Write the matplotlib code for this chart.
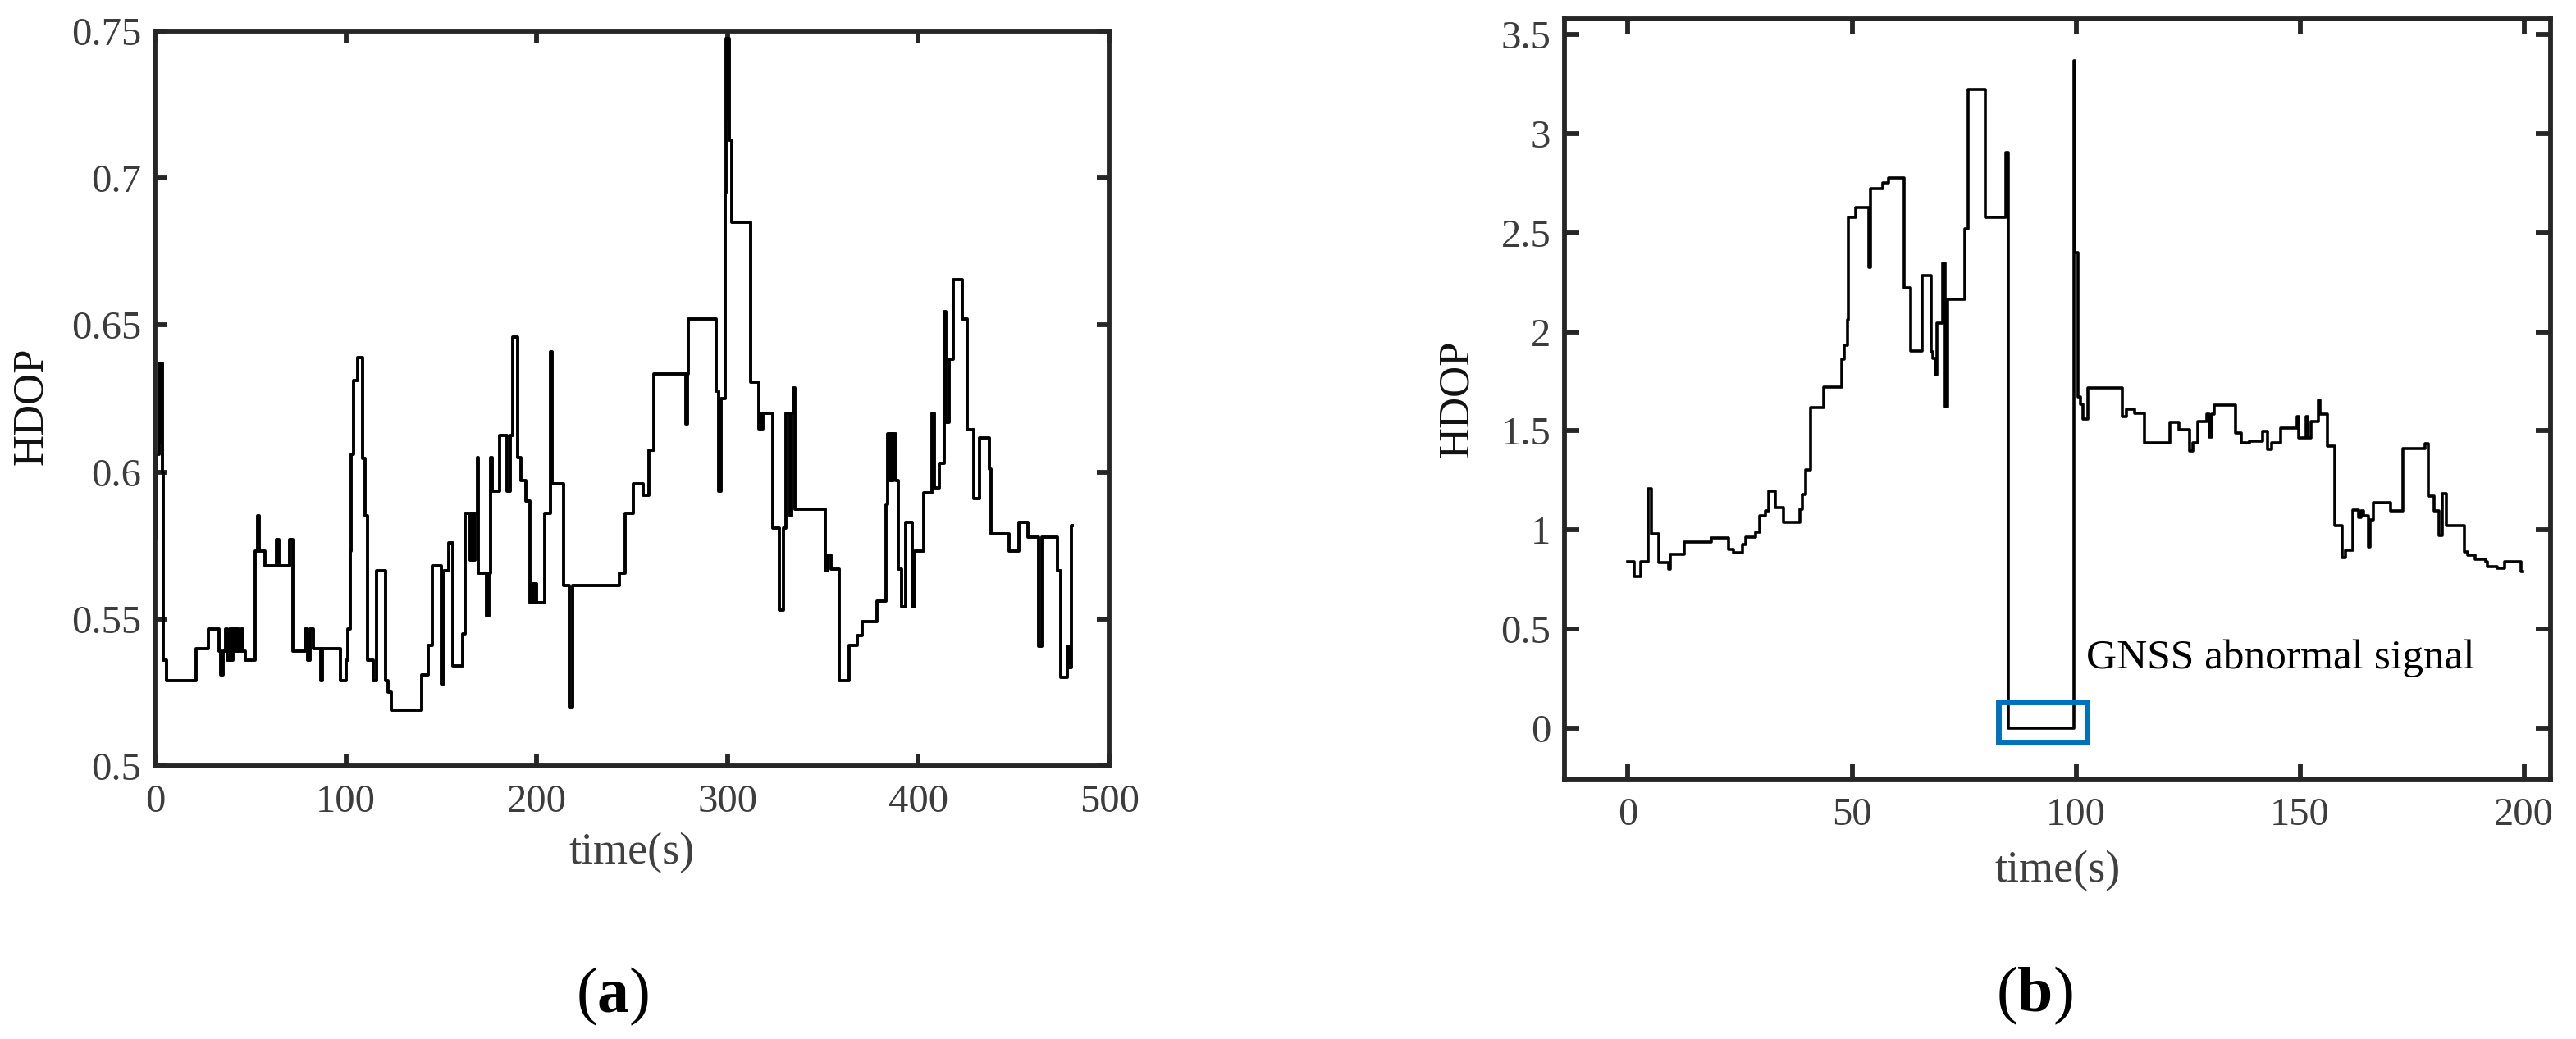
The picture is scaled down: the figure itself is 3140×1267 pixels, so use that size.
import matplotlib
matplotlib.use("Agg")
import matplotlib.pyplot as plt
from matplotlib.patches import Rectangle

plt.rcParams['font.family'] = ['Liberation Serif', 'DejaVu Serif']
plt.rcParams['mathtext.fontset'] = 'custom'
plt.rcParams['mathtext.rm'] = 'Liberation Serif'
plt.rcParams['mathtext.bf'] = 'Liberation Serif:bold'

# ---------------- data: panel (a) ----------------
time_a = [0, 0.9, 2.3, 2.8, 3.2, 3.7, 4.1, 6.2, 21.4, 28.0, 33.5, 34.2, 35.5, 37.0, 38.0, 39.0,
          40.0, 41.0, 42.0, 43.0, 44.0, 45.0, 46.0, 47.3, 52.6, 53.7, 54.5, 57.6, 63.7, 64.8,
          70.5, 72.3, 78.5, 80.0, 81.2, 83.0, 87.0, 87.9, 97.2, 100.1, 101.0, 102.3, 102.8,
          103.9, 106.2, 108.8, 110.0, 111.5, 114.2, 116.0, 120.8, 122.2, 124.0, 139.7, 143.3,
          145.4, 150.2, 151.1, 154.0, 156.1, 161.1, 162.7, 165.0, 166.0, 166.7, 167.5, 168.8,
          169.4, 173.6, 174.9, 175.8, 176.6, 180.7, 184.6, 186.0, 187.3, 190.0, 191.8, 194.5,
          196.3, 197.0, 198.0, 199.0, 200.0, 204.3, 207.0, 208.2, 214.1, 217.1, 218.9, 243.5,
          246.2, 250.7, 255.6, 258.7, 261.5, 278.2, 279.1, 279.6, 294.2, 295.5, 296.8, 298.6,
          299.0, 300.0, 300.5, 301.0, 302.1, 312.0, 316.4, 317.0, 317.5, 318.6, 323.6, 327.1,
          329.3, 330.7, 332.9, 333.8, 334.4, 335.2, 351.3, 352.7, 354.3, 358.4, 363.75, 368.0,
          370.4, 378.4, 383.0, 384.0, 385.0, 385.7, 386.5, 387.0, 388.2, 389.6, 391.4, 393.2,
          396.8, 397.9, 403.0, 407.1, 408.4, 411.1, 413.4, 414.3, 416.1, 418.2, 423.2, 425.4,
          428.9, 432.1, 437.0, 437.9, 447.7, 452.7, 457.5, 462.9, 464.6, 472.7, 474.5, 478.0,
          478.9, 480.2, 480.7]
hdop_a = [0.5775, 0.606, 0.637, 0.610, 0.637, 0.600, 0.536, 0.529, 0.540, 0.5467, 0.539, 0.531,
          0.539, 0.5467, 0.536, 0.5467, 0.536, 0.5467, 0.539, 0.5467, 0.539, 0.5467, 0.539,
          0.536, 0.573, 0.585, 0.573, 0.568, 0.577, 0.568, 0.577, 0.539, 0.5467, 0.536, 0.5467,
          0.540, 0.529, 0.540, 0.529, 0.536, 0.5467, 0.573, 0.606, 0.631, 0.639, 0.6045, 0.585,
          0.536, 0.529, 0.5665, 0.529, 0.525, 0.519, 0.531, 0.541, 0.568, 0.528, 0.5665, 0.576,
          0.534, 0.545, 0.586, 0.570, 0.586, 0.570, 0.586, 0.605, 0.5656, 0.551, 0.5656, 0.605,
          0.5935, 0.6125, 0.5935, 0.6125, 0.646, 0.605, 0.597, 0.590, 0.5555, 0.562, 0.5555,
          0.562, 0.5555, 0.586, 0.641, 0.596, 0.5615, 0.520, 0.5615, 0.5656, 0.586, 0.596,
          0.592, 0.6075, 0.6333, 0.6164, 0.6333, 0.652, 0.6275, 0.5935, 0.625, 0.695, 0.7475,
          0.720, 0.7475, 0.713, 0.685, 0.6307, 0.6147, 0.620, 0.6147, 0.620, 0.581, 0.553,
          0.581, 0.620, 0.585, 0.620, 0.6286, 0.5873, 0.5665, 0.5716, 0.567, 0.529, 0.541,
          0.5445, 0.549, 0.556, 0.589, 0.613, 0.597, 0.613, 0.597, 0.613, 0.597, 0.567, 0.554,
          0.583, 0.554, 0.573, 0.593, 0.620, 0.5946, 0.603, 0.6545, 0.617, 0.6384, 0.6655,
          0.652, 0.6143, 0.591, 0.6115, 0.601, 0.579, 0.573, 0.583, 0.5778, 0.5406, 0.5778,
          0.5665, 0.530, 0.5406, 0.5335, 0.5817, 0.5817]

# ---------------- data: panel (b) ----------------
time_b = [0, 1.3, 2.9, 4.5, 5.2, 6.8, 9.1, 9.4, 12.6, 18.5, 22.4, 23.5, 25.6, 26.3, 28.4, 29.4,
          30.7, 31.4, 32.8, 34.7, 38.4, 38.9, 39.6, 40.7, 43.7, 47.7, 48.2, 48.9, 49.2, 50.8,
          53.8, 54.1, 56.8, 58.2, 61.7, 63.0, 65.6, 67.7, 68.1, 68.6, 68.9, 70.2, 70.7, 71.3,
          75.2, 75.9, 79.8, 84.4, 84.9, 99.5, 99.8, 100.4, 101.0, 101.5, 102.7, 110.3, 111.3,
          113.0, 115.3, 121.0, 123.0, 125.4, 126.0, 127.2, 129.2, 129.8, 130.3, 130.8, 135.6,
          136.8, 138.8, 141.7, 142.7, 143.7, 145.7, 149.3, 149.7, 151.4, 151.7, 152.5, 154.1,
          154.5, 156.2, 157.8, 159.4, 160.2, 161.8, 163.0, 163.6, 164.2, 165.2, 165.6, 166.4,
          170.2, 172.9, 177.9, 178.7, 179.9, 181.1, 181.8, 182.6, 186.7, 187.5, 189.1, 191.5,
          191.9, 194.0, 195.6, 199.4, 199.6]
hdop_b = [0.84, 0.765, 0.84, 1.209, 0.978, 0.833, 0.80, 0.876, 0.94, 0.958, 0.903, 0.883, 0.926,
          0.963, 0.988, 1.071, 1.096, 1.197, 1.114, 1.039, 1.104, 1.179, 1.302, 1.616, 1.721,
          1.862, 1.932, 2.062, 2.577, 2.627, 2.326, 2.722, 2.752, 2.777, 2.22, 1.904, 2.283,
          1.90, 1.866, 1.781, 2.042, 2.346, 1.623, 2.163, 2.521, 3.224, 2.577, 2.903, 0.0,
          3.367, 2.4, 1.673, 1.636, 1.56, 1.716, 1.573, 1.611, 1.59, 1.44, 1.543, 1.505, 1.40,
          1.44, 1.548, 1.586, 1.47, 1.586, 1.628, 1.49, 1.44, 1.448, 1.498, 1.405, 1.44, 1.515,
          1.573, 1.465, 1.573, 1.465, 1.548, 1.656, 1.586, 1.423, 1.021, 0.858, 0.896, 1.101,
          1.064, 1.096, 1.071, 0.913, 1.051, 1.139, 1.096, 1.41, 1.435, 1.172, 1.096, 0.971,
          1.184, 1.021, 0.888, 0.871, 0.853, 0.838, 0.813, 0.808, 0.838, 0.788, 0.788]

xticks_a = [0, 100, 200, 300, 400, 500]
yticks_a = [0.5, 0.55, 0.6, 0.65, 0.7, 0.75]
yticklabels_a = ['0.5', '0.55', '0.6', '0.65', '0.7', '0.75']
xticks_b = [0, 50, 100, 150, 200]
yticks_b = [0, 0.5, 1, 1.5, 2, 2.5, 3, 3.5]
yticklabels_b = ['0', '0.5', '1', '1.5', '2', '2.5', '3', '3.5']
box_b = (82.7, -0.073, 102.5, 0.133)  # x0, y0, x1, y1 of highlighted region
annot_text = 'GNSS abnormal signal'

SPINE = '#262626'
TICKC = '#3c3c3c'

fig = plt.figure(figsize=(31.4, 12.67), dpi=100)
ax1 = fig.add_axes([0.0602, 0.2628, 0.3704, 0.7073])
ax2 = fig.add_axes([0.6073, 0.2502, 0.3828, 0.7317])


def style(ax, ticklen):
    for s in ax.spines.values():
        s.set_linewidth(4.2)
        s.set_color(SPINE)
    ax.tick_params(direction='in', top=True, right=True, length=ticklen, width=4.2,
                   colors=SPINE, labelcolor=TICKC, labelsize=35)
    ax.tick_params(axis='x', pad=16)
    ax.tick_params(axis='y', pad=12)


ax1.plot(time_a, hdop_a, drawstyle='steps-post', color='black', lw=2.8)
ax1.set_xlim(0, 500)
ax1.set_ylim(0.5, 0.75)
ax1.set_xticks(xticks_a)
ax1.set_yticks(yticks_a)
ax1.set_yticklabels(yticklabels_a)
style(ax1, 11)
ax1.set_xlabel('time(s)', fontsize=39, color='#404040')
ax1.set_ylabel('HDOP', fontsize=38, color='#111111')
ax1.xaxis.set_label_coords(0.5, -0.090)
ax1.yaxis.set_label_coords(-0.109, 0.49)

ax2.plot(time_b, hdop_b, drawstyle='steps-post', color='black', lw=2.6)
ax2.set_xlim(-14.2, 205.9)
ax2.set_ylim(-0.258, 3.58)
ax2.set_xticks(xticks_b)
ax2.set_yticks(yticks_b)
ax2.set_yticklabels(yticklabels_b)
style(ax2, 13)
ax2.set_xlabel('time(s)', fontsize=39, color='#404040')
ax2.set_ylabel('HDOP', fontsize=38, color='#111111')
ax2.xaxis.set_label_coords(0.5, -0.094)
ax2.yaxis.set_label_coords(-0.089, 0.5)

x0, y0, x1, y1 = box_b
ax2.add_patch(Rectangle((x0, y0), x1 - x0, y1 - y0, fill=False,
                        edgecolor='#0072BD', lw=5, zorder=3))
ax2.text(102.25, 0.35, annot_text, fontsize=37, color='black', ha='left', va='center')

fig.text(746.5 / 3140, 1 - 1215 / 1267, r'($\mathbf{a}$)', fontsize=56,
         ha='center', va='center', color='black')
fig.text(2480 / 3140, 1 - 1214 / 1267, r'($\mathbf{b}$)', fontsize=56,
         ha='center', va='center', color='black')

fig.savefig('out.png', dpi=100)
